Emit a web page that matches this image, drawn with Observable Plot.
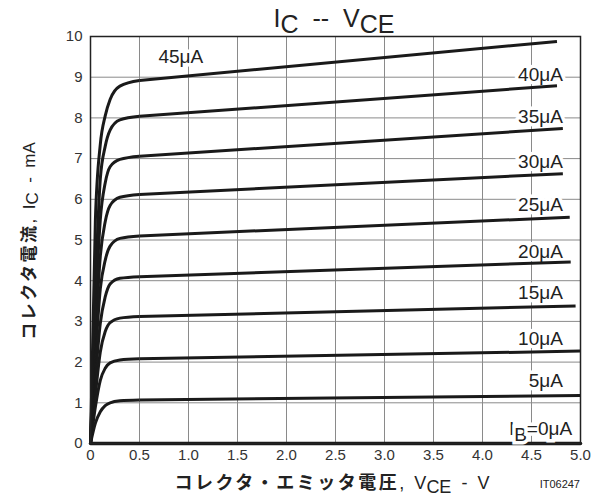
<!DOCTYPE html>
<html><head><meta charset="utf-8">
<script src="https://cdn.jsdelivr.net/npm/d3@7"></script>
<script src="https://cdn.jsdelivr.net/npm/@observablehq/plot@0.6"></script>
<style>
body{margin:0;background:#fff;}
#chart{width:600px;height:497px;}
</style>
</head><body><div id="chart"></div>
<script>
// Base currents (µA) of the curves, bottom to top
const ibValues = [5, 10, 15, 20, 25, 30, 35, 40, 45];
// V_CE sample points along the rise and knee of each curve (V)
const vKnee = [0, 0.05, 0.1, 0.15, 0.2, 0.3, 0.5];
// V_CE where each curve ends (V)
const vEnd = [5.0, 5.0, 4.95, 4.9, 4.89, 4.82, 4.82, 4.76, 4.76];
// I_C (mA) at vKnee points followed by the value at vEnd
const ic5  = [0, 0.50, 0.78, 0.93, 1.00, 1.05, 1.07, 1.18];
const ic10 = [0, 0.90, 1.55, 1.85, 1.98, 2.05, 2.08, 2.27];
const ic15 = [0, 1.20, 2.25, 2.75, 2.97, 3.08, 3.12, 3.38];
const ic20 = [0, 1.60, 2.95, 3.60, 3.92, 4.06, 4.10, 4.46];
const ic25 = [0, 2.10, 3.80, 4.50, 4.85, 5.04, 5.10, 5.56];
const ic30 = [0, 2.60, 4.60, 5.45, 5.85, 6.05, 6.12, 6.63];
const ic35 = [0, 3.20, 5.50, 6.40, 6.80, 6.98, 7.06, 7.74];
const ic40 = [0, 3.80, 6.50, 7.30, 7.70, 7.95, 8.04, 8.79];
const ic45 = [0, 5.50, 7.35, 8.05, 8.45, 8.78, 8.92, 9.88];
// I_B = 0 curve lies on the axis
const v0 = [0, 5.0];
const ic0 = [0, 0];

// Curve labels
const labelText = ["45μA", "40μA", "35μA", "30μA", "25μA", "20μA", "15μA", "10μA", "5μA"];
const labelV = [1.15, 4.82, 4.82, 4.82, 4.82, 4.82, 4.82, 4.82, 4.82];
const labelI = [9.51, 9.05, 8.02, 6.93, 5.86, 4.71, 3.69, 2.58, 1.55];
const zeroLabelV = 4.92, zeroLabelI = 0.36;

// Ticks
const xTicks = [0, 0.5, 1.0, 1.5, 2.0, 2.5, 3.0, 3.5, 4.0, 4.5, 5.0];
const xTickLabels = ["0", "0.5", "1.0", "1.5", "2.0", "2.5", "3.0", "3.5", "4.0", "4.5", "5.0"];
const yTicks = [0, 1, 2, 3, 4, 5, 6, 7, 8, 9, 10];

const icSeries = [ic5, ic10, ic15, ic20, ic25, ic30, ic35, ic40, ic45];
const kneeRows = [], tailRows = [];
ibValues.forEach((ib, k) => {
  const ic = icSeries[k];
  vKnee.forEach((v, j) => kneeRows.push({ib, v, i: ic[j]}));
  const last = vKnee.length - 1;
  tailRows.push({ib, v: vKnee[last], i: ic[last]});
  tailRows.push({ib, v: vEnd[k], i: ic[last + 1]});
});
const zeroRows = v0.map((v, j) => ({ib: 0, v, i: ic0[j]}));
const labels = labelText.map((t, k) => ({t, v: labelV[k], i: labelI[k]}));

const latin = "'Liberation Sans', Arial, Helvetica, sans-serif";
const cjk = "'Noto Sans CJK JP', sans-serif";

const chart = Plot.plot({
  width: 600, height: 497,
  marginLeft: 90, marginRight: 20, marginTop: 36, marginBottom: 54,
  style: {fontFamily: latin, fontSize: "15px", color: "#333", background: "#fff", overflow: "visible"},
  x: {domain: [0, 5], ticks: xTicks, tickFormat: d => xTickLabels[xTicks.indexOf(d)], tickSize: 0, tickPadding: 6, label: null},
  y: {domain: [0, 10], ticks: yTicks, tickSize: 0, tickPadding: 8, label: null},
  marks: [
    Plot.gridX(xTicks, {stroke: "#8a8a8a", strokeOpacity: 1, strokeWidth: 1}),
    Plot.gridY(yTicks, {stroke: "#8a8a8a", strokeOpacity: 1, strokeWidth: 1}),
    Plot.text(labels, {x: "v", y: "i", text: "t", textAnchor: "end", fontSize: 19, fill: "#222", stroke: "white", strokeWidth: 7}),
    Plot.line(kneeRows, {x: "v", y: "i", z: "ib", curve: "monotone-x", stroke: "#1a1a1a", strokeWidth: 3, strokeLinecap: "butt"}),
    Plot.line(tailRows, {x: "v", y: "i", z: "ib", curve: "linear", stroke: "#1a1a1a", strokeWidth: 3, strokeLinecap: "butt"}),
    Plot.line(zeroRows, {x: "v", y: "i", stroke: "#1a1a1a", strokeWidth: 3.5}),
    Plot.frame({stroke: "#222", strokeWidth: 1.5})
  ]
});
document.getElementById("chart").appendChild(chart);

const svg = d3.select(chart);
const sx = chart.scale("x"), sy = chart.scale("y");

// I_B = 0 label with subscript
const zl = svg.append("text")
  .attr("x", sx.apply(zeroLabelV)).attr("y", sy.apply(zeroLabelI)).attr("dy", "0.35em")
  .attr("text-anchor", "end").attr("font-family", latin).attr("font-size", 19)
  .attr("fill", "#222").attr("stroke", "white").attr("stroke-width", 7)
  .attr("paint-order", "stroke");
zl.append("tspan").text("I");
zl.append("tspan").attr("dy", "0.3em").text("B");
zl.append("tspan").attr("dy", "-0.3em").text("=0μA");

// Title
const title = svg.append("text").attr("x", 334).attr("y", 27)
  .attr("text-anchor", "middle").attr("font-family", latin).attr("font-size", 25)
  .attr("fill", "#222").style("white-space", "pre");
title.append("tspan").text("I");
title.append("tspan").attr("dy", 6).text("C");
title.append("tspan").attr("dy", -6).text("  --  V");
title.append("tspan").attr("dy", 6).text("CE");

// Y-axis label
const yl = svg.append("text").attr("transform", "translate(35,241) rotate(-90)")
  .attr("text-anchor", "middle").attr("font-size", 17).attr("fill", "#222").style("white-space", "pre");
yl.append("tspan").attr("font-family", cjk).attr("font-weight", 700).attr("letter-spacing", "2.5px").text("コレクタ電流");
yl.append("tspan").attr("font-family", latin).text(",  I");
yl.append("tspan").attr("font-family", latin).attr("dy", 3).text("C");
yl.append("tspan").attr("font-family", latin).attr("dy", -3).text("  -  mA");

// X-axis label
const xl = svg.append("text").attr("x", 332).attr("y", 489)
  .attr("text-anchor", "middle").attr("font-size", 18).attr("fill", "#222").style("white-space", "pre");
xl.append("tspan").attr("font-family", cjk).attr("font-weight", 700).attr("letter-spacing", "2.5px").text("コレクタ・エミッタ電圧");
xl.append("tspan").attr("font-family", latin).text(",  V");
xl.append("tspan").attr("font-family", latin).attr("dy", 4).text("CE");
xl.append("tspan").attr("font-family", latin).attr("dy", -4).text("  -  V");

// Figure code
svg.append("text").attr("x", 580).attr("y", 488).attr("text-anchor", "end")
  .attr("font-family", latin).attr("font-size", 11).attr("fill", "#222").text("IT06247");
</script>
</body></html>
